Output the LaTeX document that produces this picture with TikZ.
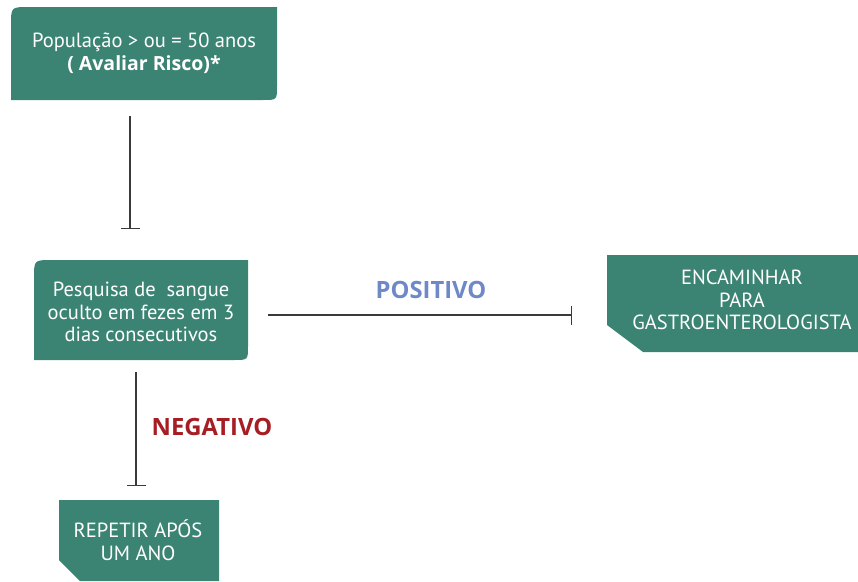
\documentclass[tikz,border=0pt]{standalone}
\usepackage{fontspec}
\setmainfont{PT Sans}
\newfontfamily\labelfont{Open Sans}
\usetikzlibrary{arrows.meta}
\definecolor{boxgreen}{HTML}{3B8473}
\definecolor{poscolor}{HTML}{6F88C8}
\definecolor{negcolor}{HTML}{A61E24}
\definecolor{linegray}{HTML}{3A3A3A}
\tikzset{
  boxfill/.style={fill=boxgreen},
  boxtext/.style={text=white, align=center, font=\fontsize{20.5}{22.7}\selectfont, inner sep=0pt},
  flow/.style={draw=linegray, line width=1.5pt, -{Bar[width=19pt, line width=1.5pt]}},
  verdict/.style={font=\labelfont\fontsize{23.8}{26}\selectfont\bfseries, inner sep=0pt}
}
\begin{document}
\begin{tikzpicture}[x=1pt, y=-1pt]
  \useasboundingbox (0,0) rectangle (858,581);
  \clip (0,0) rectangle (858,581);

  % boxes
  \fill[boxfill] (11,100) -- (11,25) .. controls (11,7) .. (29,7) -- (277,7)
    -- (277,86) .. controls (277,100) .. (263,100) -- cycle;
  \fill[boxfill] (34,360) -- (34,278) .. controls (34,260) .. (52,260) -- (248,260)
    -- (248,346) .. controls (248,360) .. (234,360) -- cycle;
  \fill[boxfill] (607,255) -- (858,255) -- (858,352) -- (643,352) -- (607,325) -- cycle;
  \fill[boxfill] (59,500) -- (219,500) -- (219,581) -- (80,581) -- (59,560) -- cycle;

  % texts
  \node[boxtext] (pop) at (144,53) {População > ou = 50 anos\\{\labelfont\bfseries\fontsize{19.5}{22.7}\selectfont ( Avaliar Risco)*}};
  \node[boxtext] (test) at (141,312) {Pesquisa de \ sangue\\oculto em fezes em 3\\dias consecutivos};
  \node[boxtext] (refer) at (742,300) {ENCAMINHAR\\PARA\\GASTROENTEROLOGISTA};
  \node[boxtext] (repeat) at (138,540) {REPETIR APÓS\\UM ANO};

  % connector end points
  \coordinate (popout) at (130,116);
  \coordinate (testin) at (130,229);
  \coordinate (testright) at (268,315);
  \coordinate (referin) at (572,315);
  \coordinate (testdown) at (136,372);
  \coordinate (repeatin) at (136,486);

  \draw[flow] (popout) -- (testin);
  \draw[flow] (testright) -- (referin);
  \draw[flow] (testdown) -- (repeatin);

  % outcome labels
  \node[verdict, text=poscolor] (pos) at (431,290) {POSITIVO};
  \node[verdict, text=negcolor] (neg) at (212,427) {NEGATIVO};
\end{tikzpicture}
\end{document}
